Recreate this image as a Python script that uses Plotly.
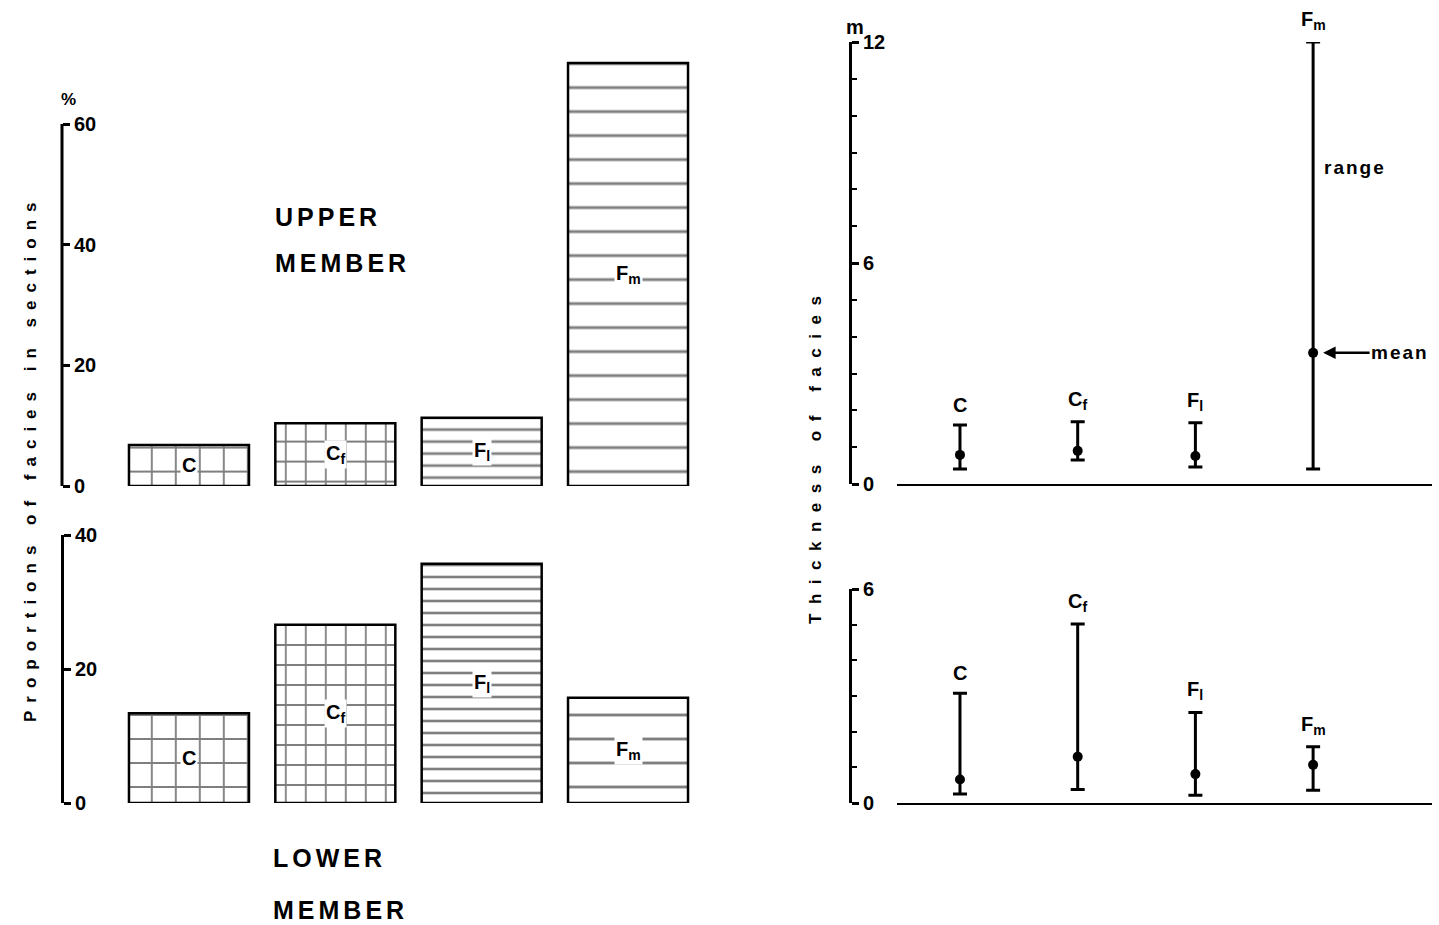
import plotly.graph_objects as go

# ---------------- data ----------------
facies = ["C", "Cf", "Fl", "Fm"]
facies_labels = ["C", "C<sub>f</sub>", "F<sub>l</sub>", "F<sub>m</sub>"]

# proportions of facies in sections (%)
upper_pct = [6.8, 10.4, 11.3, 70.1]
lower_pct = [13.4, 26.6, 35.7, 15.7]

# thickness of facies (m): min / mean / max
upper_min = [0.41, 0.65, 0.46, 0.41]
upper_mean = [0.79, 0.90, 0.76, 3.56]
upper_max = [1.60, 1.69, 1.66, 12.0]
lower_min = [0.25, 0.38, 0.22, 0.36]
lower_mean = [0.66, 1.30, 0.81, 1.07]
lower_max = [3.08, 5.02, 2.54, 1.58]

pct_ticks_upper = [0, 20, 40, 60]
pct_ticks_lower = [0, 20, 40]
thick_ticks_upper = [0, 6, 12]
thick_minor_upper = [1, 2, 3, 4, 5, 7, 8, 9, 10, 11]
thick_ticks_lower = [0, 6]
thick_minor_lower = [1, 2, 3, 4, 5]

# ---------------- styling ----------------
W, H = 1439, 925
FONT = "Liberation Sans"
BOLD = dict(family=FONT, color="black", weight="bold")

pattern_shapes = ["+", "+", "-", "-"]
pattern_sizes = [24, 20, 12, 24]
pattern_solid = [0.15, 0.17, 0.22, 0.12]


def px_x(p):
    return p / W


def px_y(p):
    return 1 - p / H


fig = go.Figure()

bar_marker = dict(
    color="white",
    line=dict(color="black", width=2.5),
    pattern=dict(shape=pattern_shapes, size=pattern_sizes, solidity=pattern_solid,
                 fgcolor="black", bgcolor="white", fillmode="overlay"),
)

fig.add_trace(go.Bar(x=facies, y=upper_pct, xaxis="x", yaxis="y", marker=bar_marker,
                     showlegend=False, hoverinfo="skip"))
fig.add_trace(go.Bar(x=facies, y=lower_pct, xaxis="x2", yaxis="y2", marker=bar_marker,
                     showlegend=False, hoverinfo="skip"))


def range_trace(mins, means, maxs, xa, ya):
    return go.Scatter(
        x=facies, y=means, xaxis=xa, yaxis=ya, mode="markers",
        marker=dict(color="black", size=10),
        error_y=dict(type="data", symmetric=False,
                     array=[mx - m for mx, m in zip(maxs, means)],
                     arrayminus=[m - mn for m, mn in zip(means, mins)],
                     color="black", thickness=3, width=7),
        showlegend=False, hoverinfo="skip")


fig.add_trace(range_trace(upper_min, upper_mean, upper_max, "x3", "y3"))
fig.add_trace(range_trace(lower_min, lower_mean, lower_max, "x4", "y4"))

# ---------------- axes ----------------
left_dom = [px_x(115.8), px_x(701.2)]
right_dom = [px_x(897), px_x(1432)]

hidden_x = dict(type="category", categoryorder="array", categoryarray=facies,
                range=[-0.5, 3.5], domain=left_dom, showline=False, showgrid=False,
                zeroline=False, showticklabels=False, ticks="", automargin=False)
right_x = dict(type="category", categoryorder="array", categoryarray=facies,
               range=[-0.535, 4.01], domain=right_dom, showline=True, linecolor="black",
               linewidth=2, showgrid=False, zeroline=False, showticklabels=False, ticks="",
               automargin=False)

ycommon = dict(anchor="free", side="right", ticks="outside", ticklen=7, tickwidth=3,
               tickcolor="black", showgrid=False, zeroline=False, automargin=False,
               tickfont=dict(size=20, **BOLD))

fig.update_layout(
    width=W, height=H, margin=dict(l=0, r=0, t=0, b=0, autoexpand=False),
    paper_bgcolor="white", plot_bgcolor="white",
    bargap=0.18, barmode="group",
    font=dict(family=FONT, color="black"),
    xaxis=dict(anchor="y", **hidden_x),
    xaxis2=dict(anchor="y2", **hidden_x),
    xaxis3=dict(anchor="y3", **right_x),
    xaxis4=dict(anchor="y4", **right_x),
    yaxis=dict(domain=[px_y(486), px_y(51.6)], range=[0, 72], position=px_x(62),
               tickvals=pct_ticks_upper, showline=False, **ycommon),
    yaxis2=dict(domain=[px_y(803), px_y(535)], range=[0, 40], position=px_x(62),
                tickvals=pct_ticks_lower, showline=True, linecolor="black", linewidth=3,
                **ycommon),
    yaxis3=dict(domain=[px_y(484), px_y(42)], range=[0, 12], position=px_x(850),
                tickvals=thick_ticks_upper, showline=True,
                linecolor="black", linewidth=3,
                minor=dict(tickvals=thick_minor_upper, ticks="outside", ticklen=5,
                           tickwidth=2, tickcolor="black"),
                **ycommon),
    yaxis4=dict(domain=[px_y(803), px_y(589)], range=[0, 6], position=px_x(850),
                tickvals=thick_ticks_lower, showline=True,
                linecolor="black", linewidth=3,
                minor=dict(tickvals=thick_minor_lower, ticks="outside", ticklen=5,
                           tickwidth=2, tickcolor="black"),
                **ycommon),
)

# axis line of upper proportions axis only spans 0-60
fig.add_shape(type="line", xref="paper", yref="y", x0=px_x(62), x1=px_x(62),
              y0=pct_ticks_upper[0], y1=pct_ticks_upper[-1],
              line=dict(color="black", width=3))

ann = []
# facies labels inside bars
for f, lab, v in zip(facies, facies_labels, upper_pct):
    ann.append(dict(x=f, y=v / 2, xref="x", yref="y", text=lab, showarrow=False,
                    xanchor="center", yanchor="middle",
                    bgcolor="white", borderpad=1, font=dict(size=20, **BOLD)))
for f, lab, v in zip(facies, facies_labels, lower_pct):
    ann.append(dict(x=f, y=v / 2, xref="x2", yref="y2", text=lab, showarrow=False,
                    xanchor="center", yanchor="middle",
                    bgcolor="white", borderpad=1, font=dict(size=20, **BOLD)))
# facies labels above thickness ranges
for f, lab, v in zip(facies, facies_labels, upper_max):
    ann.append(dict(x=f, y=v, xref="x3", yref="y3", text=lab, showarrow=False,
                    xanchor="center", yanchor="bottom", yshift=7, font=dict(size=20, **BOLD)))
for f, lab, v in zip(facies, facies_labels, lower_max):
    ann.append(dict(x=f, y=v, xref="x4", yref="y4", text=lab, showarrow=False,
                    xanchor="center", yanchor="bottom", yshift=7, font=dict(size=20, **BOLD)))

# range / mean callouts
ann.append(dict(x="Fm", y=8.6, xref="x3", yref="y3",
                text='<span style="letter-spacing:2px">range</span>',
                showarrow=False, xanchor="left", yanchor="middle", xshift=9,
                font=dict(size=19, **BOLD)))
ann.append(dict(x="Fm", y=upper_mean[3], xref="x3", yref="y3",
                text='<span style="letter-spacing:2px">mean</span>',
                showarrow=True, ax=87, ay=0, arrowhead=2, arrowsize=1, arrowwidth=2.5,
                arrowcolor="black", standoff=10, font=dict(size=19, **BOLD)))

# unit labels
ann.append(dict(x=px_x(68), y=px_y(99), xref="paper", yref="paper", text="%",
                xanchor="center", yanchor="middle",
                showarrow=False, font=dict(size=17, **BOLD)))
ann.append(dict(x=px_x(855), y=px_y(27), xref="paper", yref="paper", text="m",
                xanchor="center", yanchor="middle",
                showarrow=False, font=dict(size=20, **BOLD)))

# member labels
for txt, x, y in [("UPPER", 273, 217), ("MEMBER", 273, 263),
                  ("LOWER", 271, 858), ("MEMBER", 271, 910)]:
    ann.append(dict(x=px_x(x), y=px_y(y), xref="paper", yref="paper",
                    text=f'<span style="letter-spacing:4px">{txt}</span>',
                    showarrow=False, xanchor="left", yanchor="middle",
                    font=dict(size=25, **BOLD)))

# axis titles
ann.append(dict(x=px_x(30), y=px_y(458), xref="paper", yref="paper",
                text='<span style="letter-spacing:8px">Proportions of facies in sections</span>',
                textangle=-90, showarrow=False, xanchor="center", yanchor="middle",
                font=dict(size=17, **BOLD)))
ann.append(dict(x=px_x(815), y=px_y(456), xref="paper", yref="paper",
                text='<span style="letter-spacing:9.5px">Thickness of facies</span>',
                textangle=-90, showarrow=False, xanchor="center", yanchor="middle",
                font=dict(size=17, **BOLD)))

fig.update_layout(annotations=ann)

fig.write_html("out.html", config={"displayModeBar": False},
               post_script="document.body.style.margin='0';document.body.style.overflow='hidden';")
